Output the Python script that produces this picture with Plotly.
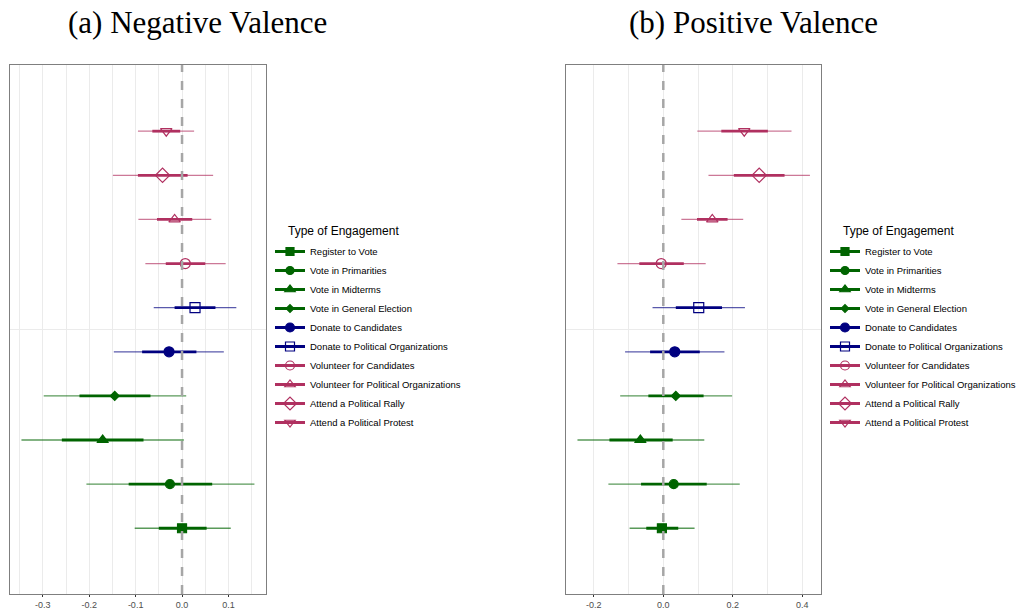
import plotly.graph_objects as go

# Engagement types, bottom to top
categories = [
    "Register to Vote",
    "Vote in Primarities",
    "Vote in Midterms",
    "Vote in General Election",
    "Donate to Candidates",
    "Donate to Political Organizations",
    "Volunteer for Candidates",
    "Volunteer for Political Organizations",
    "Attend a Political Rally",
    "Attend a Political Protest",
]

# (a) Negative valence: estimate, 90% interval (thick), 95% interval (thin)
neg_est = [0.000, -0.026, -0.171, -0.145, -0.028, 0.028, 0.007, -0.016, -0.042, -0.034]
neg_lo90 = [-0.050, -0.115, -0.259, -0.221, -0.086, -0.016, -0.035, -0.054, -0.095, -0.064]
neg_hi90 = [0.053, 0.065, -0.083, -0.068, 0.031, 0.072, 0.050, 0.022, 0.012, -0.004]
neg_lo95 = [-0.102, -0.206, -0.346, -0.298, -0.147, -0.061, -0.079, -0.094, -0.149, -0.095]
neg_hi95 = [0.105, 0.156, 0.004, 0.009, 0.090, 0.117, 0.094, 0.063, 0.067, 0.026]

# (b) Positive valence
pos_est = [-0.004, 0.030, -0.066, 0.036, 0.033, 0.102, -0.006, 0.141, 0.276, 0.233]
pos_lo90 = [-0.049, -0.064, -0.155, -0.043, -0.038, 0.036, -0.069, 0.097, 0.203, 0.167]
pos_hi90 = [0.043, 0.125, 0.027, 0.116, 0.105, 0.169, 0.059, 0.185, 0.349, 0.301]
pos_lo95 = [-0.097, -0.158, -0.247, -0.124, -0.110, -0.031, -0.132, 0.052, 0.130, 0.098]
pos_hi95 = [0.090, 0.220, 0.118, 0.198, 0.176, 0.235, 0.122, 0.230, 0.422, 0.369]

neg_ticks = [-0.3, -0.2, -0.1, 0.0, 0.1]
pos_ticks = [-0.2, 0.0, 0.2, 0.4]

GREEN = "#006400"
NAVY = "#000080"
MAROON = "#B03060"

colors = [GREEN] * 4 + [NAVY] * 2 + [MAROON] * 4
symbols = ["square", "circle", "triangle-up", "diamond",
           "circle", "square-open", "circle-open", "triangle-up-open",
           "diamond-open", "triangle-down-open"]
sizes = [9, 9, 10, 7, 10, 10, 10, 10, 11, 10]


def rgba(hex_color, a):
    h = hex_color.lstrip("#")
    r, g, b = int(h[0:2], 16), int(h[2:4], 16), int(h[4:6], 16)
    return f"rgba({r},{g},{b},{a})"


fig = go.Figure()

panels = [
    ("x", "y", neg_est, neg_lo90, neg_hi90, neg_lo95, neg_hi95, "legend"),
    ("x2", "y2", pos_est, pos_lo90, pos_hi90, pos_lo95, pos_hi95, "legend2"),
]

for xa, ya, est, lo90, hi90, lo95, hi95, leg in panels:
    for i, name in enumerate(categories):
        ypos = i + 1
        c = colors[i]
        # 95% interval
        fig.add_trace(go.Scatter(
            x=[lo95[i], hi95[i]], y=[ypos, ypos], mode="lines",
            line=dict(color=rgba(c, 0.65), width=1.3),
            xaxis=xa, yaxis=ya, showlegend=False, hoverinfo="skip"))
        # 90% interval
        fig.add_trace(go.Scatter(
            x=[lo90[i], hi90[i]], y=[ypos, ypos], mode="lines",
            line=dict(color=c, width=2.8),
            xaxis=xa, yaxis=ya, showlegend=False, hoverinfo="skip"))
        # point estimate
        fig.add_trace(go.Scatter(
            x=[est[i]], y=[ypos], mode="markers",
            marker=dict(symbol=symbols[i], size=sizes[i], color=c,
                        line=dict(color=c, width=1.2)),
            xaxis=xa, yaxis=ya, showlegend=False, name=name))
    # legend entries
    for i, name in enumerate(categories):
        c = colors[i]
        fig.add_trace(go.Scatter(
            x=[None], y=[None], mode="lines+markers", name=name,
            line=dict(color=c, width=3),
            marker=dict(symbol=symbols[i], size=sizes[i] - 1, color=c,
                        line=dict(color=c, width=1.2)),
            xaxis=xa, yaxis=ya, showlegend=True, legend=leg))

axis_common = dict(
    showgrid=True, gridcolor="#EBEBEB", gridwidth=1,
    showline=True, linecolor="#7F7F7F", linewidth=1, mirror=True,
    zeroline=False, ticks="outside", ticklen=2, tickcolor="#333333",
    tickfont=dict(family="Liberation Sans, Arial", size=9, color="#4D4D4D"),
    automargin=False,
)

yaxis_common = dict(
    range=[-0.49, 11.5], showticklabels=False, ticks="",
    tickvals=[5.5], showgrid=True, gridcolor="#EBEBEB", gridwidth=1,
    showline=True, linecolor="#7F7F7F", linewidth=1, mirror=True,
    zeroline=False, automargin=False,
)

legend_common = dict(
    font=dict(family="Liberation Sans, Arial", size=9.5, color="#000000"),
    bgcolor="rgba(0,0,0,0)", tracegroupgap=0, itemwidth=30,
    yanchor="top", xanchor="left", traceorder="normal",
)

fig.update_layout(
    width=1024, height=609,
    margin=dict(l=0, r=0, t=65, b=15),
    paper_bgcolor="white", plot_bgcolor="white",
    xaxis=dict(domain=[0.0098, 0.2598], range=[-0.3706, 0.181],
               tickvals=neg_ticks, ticktext=[f"{v:.1f}" for v in neg_ticks],
               minor=dict(dtick=0.05, showgrid=True, gridcolor="#EBEBEB"),
               **axis_common),
    xaxis2=dict(domain=[0.5524, 0.8018], range=[-0.281, 0.454],
                tickvals=pos_ticks, ticktext=[f"{v:.1f}" for v in pos_ticks],
                minor=dict(dtick=0.1, showgrid=True, gridcolor="#EBEBEB"),
                **axis_common),
    yaxis=dict(anchor="x", **yaxis_common),
    yaxis2=dict(anchor="x2", **yaxis_common),
    legend=dict(x=270 / 1024, y=(594 - 237) / 529, **legend_common),
    legend2=dict(x=825 / 1024, y=(594 - 237) / 529, **legend_common),
    showlegend=True,
)

# legend headings
head_font = dict(family="Liberation Sans, Arial", size=12, color="#000000")
for xh in [286 / 1024, 841 / 1024]:
    fig.add_annotation(text="Type of Engagement", xref="paper", yref="paper",
                       x=xh, y=(594 - 231) / 529, showarrow=False,
                       font=head_font, xanchor="left", yanchor="middle")

# dashed reference line at zero in both panels
for xa, ya in [("x", "y"), ("x2", "y2")]:
    fig.add_shape(type="line", xref=xa, yref=f"{ya} domain",
                  x0=0, x1=0, y0=0, y1=1,
                  line=dict(color="#A6A6A6", width=2.5, dash="dash"),
                  layer="above")

title_font = dict(family="Liberation Serif, DejaVu Serif", size=31, color="#000000")
fig.add_annotation(text="(a) Negative Valence", xref="paper", yref="paper",
                   x=0.193, y=1.081, showarrow=False, font=title_font,
                   xanchor="center", yanchor="middle")
fig.add_annotation(text="(b) Positive Valence", xref="paper", yref="paper",
                   x=0.736, y=1.081, showarrow=False, font=title_font,
                   xanchor="center", yanchor="middle")

fig.write_html("out.html")
